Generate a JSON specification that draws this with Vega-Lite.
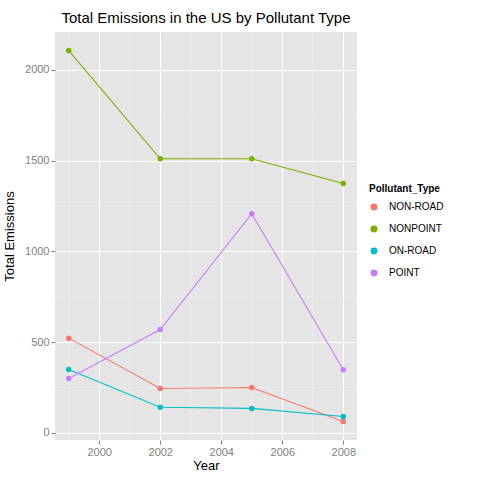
{
  "$schema": "https://vega.github.io/schema/vega-lite/v6.json",
  "autosize": "none",
  "width": 302,
  "height": 408,
  "padding": {"left": 55, "top": 32, "right": 123, "bottom": 40},
  "background": "white",
  "title": {"text": "Total Emissions in the US by Pollutant Type", "fontSize": 15, "fontWeight": "normal", "font": "Liberation Sans", "color": "black", "offset": 6},
  "config": {
    "view": {"fill": "#e5e5e5", "stroke": null},
    "font": "Liberation Sans",
    "axis": {"gridColor": "white", "gridWidth": 1.2, "domain": false, "tickColor": "#7f7f7f", "tickSize": 4, "labelColor": "#7f7f7f", "labelFontSize": 11, "titleFontSize": 13, "titleFontWeight": "normal", "titleColor": "black"}
  },
  "layer": [
    {
      "data": {"values": [{"v": 250}, {"v": 750}, {"v": 1250}, {"v": 1750}]},
      "mark": {"type": "rule", "color": "#f2f2f2", "strokeWidth": 0.6},
      "encoding": {"y": {"field": "v", "type": "quantitative", "scale": {"domain": [-39, 2208], "nice": false, "zero": false}}}
    },
    {
      "data": {"values": [{"v": 1999}, {"v": 2001}, {"v": 2003}, {"v": 2005}, {"v": 2007}]},
      "mark": {"type": "rule", "color": "#f2f2f2", "strokeWidth": 0.6},
      "encoding": {"x": {"field": "v", "type": "quantitative", "scale": {"domain": [1998.55, 2008.45], "nice": false, "zero": false}}}
    },
    {
      "data": {"values": [
        {"Year": 1999, "Pollutant_Type": "NON-ROAD", "Emissions": 522},
        {"Year": 2002, "Pollutant_Type": "NON-ROAD", "Emissions": 245},
        {"Year": 2005, "Pollutant_Type": "NON-ROAD", "Emissions": 250},
        {"Year": 2008, "Pollutant_Type": "NON-ROAD", "Emissions": 63},
        {"Year": 1999, "Pollutant_Type": "NONPOINT", "Emissions": 2106},
        {"Year": 2002, "Pollutant_Type": "NONPOINT", "Emissions": 1510},
        {"Year": 2005, "Pollutant_Type": "NONPOINT", "Emissions": 1510},
        {"Year": 2008, "Pollutant_Type": "NONPOINT", "Emissions": 1374},
        {"Year": 1999, "Pollutant_Type": "ON-ROAD", "Emissions": 349},
        {"Year": 2002, "Pollutant_Type": "ON-ROAD", "Emissions": 141},
        {"Year": 2005, "Pollutant_Type": "ON-ROAD", "Emissions": 135},
        {"Year": 2008, "Pollutant_Type": "ON-ROAD", "Emissions": 90},
        {"Year": 1999, "Pollutant_Type": "POINT", "Emissions": 300},
        {"Year": 2002, "Pollutant_Type": "POINT", "Emissions": 569},
        {"Year": 2005, "Pollutant_Type": "POINT", "Emissions": 1207},
        {"Year": 2008, "Pollutant_Type": "POINT", "Emissions": 348}
      ]},
      "mark": {"type": "line", "point": {"size": 30, "filled": true, "opacity": 1}, "strokeWidth": 1.1},
      "encoding": {
        "x": {"field": "Year", "type": "quantitative", "scale": {"domain": [1998.55, 2008.45], "nice": false, "zero": false}, "axis": {"values": [2000, 2002, 2004, 2006, 2008], "format": "d", "title": "Year", "titlePadding": 2}},
        "y": {"field": "Emissions", "type": "quantitative", "scale": {"domain": [-39, 2208], "nice": false, "zero": false}, "axis": {"values": [0, 500, 1000, 1500, 2000], "format": "d", "title": "Total Emissions", "titlePadding": 8}},
        "color": {"field": "Pollutant_Type", "type": "nominal", "scale": {"range": ["#F8766D", "#7CAE00", "#00BFC4", "#C77CFF"]}, "legend": {"title": "Pollutant_Type", "titleFontSize": 10, "titleFontWeight": "bold", "titleColor": "black", "titlePadding": 8, "labelFontSize": 10, "labelColor": "black", "labelOffset": 10, "symbolType": "circle", "symbolSize": 30, "rowPadding": 10, "orient": "none", "legendX": 314, "legendY": 152}}
      }
    }
  ]
}
